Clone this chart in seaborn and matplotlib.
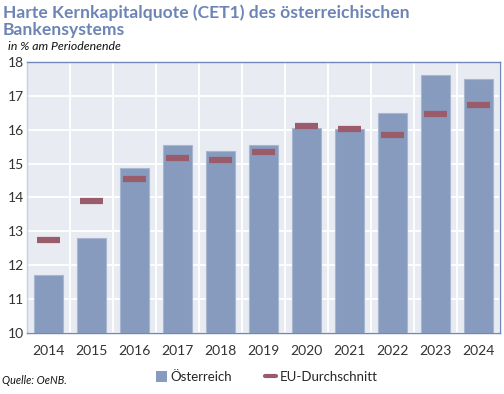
import numpy as np
import pandas as pd
import matplotlib
matplotlib.use('Agg')
import matplotlib.pyplot as plt
import seaborn as sns
from matplotlib.patches import Patch
from matplotlib.lines import Line2D

# data
years = ['2014', '2015', '2016', '2017', '2018', '2019', '2020', '2021', '2022', '2023', '2024']
oesterreich = [11.7, 12.8, 14.86, 15.55, 15.38, 15.55, 16.05, 16.02, 16.48, 17.61, 17.49]
eu_schnitt = [12.74, 13.9, 14.53, 15.16, 15.09, 15.33, 16.12, 16.03, 15.85, 16.47, 16.73]
y_ticks = [10, 11, 12, 13, 14, 15, 16, 17, 18]

BAR_COLOR = '#879bbe'
EU_COLOR = '#9a5b6a'
BG_COLOR = '#e8ebf2'
TITLE_COLOR = '#6d85b6'
SPINE_COLOR = '#7089b8'

df = pd.DataFrame({'Jahr': years, 'Österreich': oesterreich, 'EU': eu_schnitt})

sns.set_style('white')
plt.rcParams['font.family'] = ['Lato', 'DejaVu Sans']

fig = plt.figure(figsize=(5.04, 3.94), dpi=100)
ax = fig.add_axes([0.054, 0.155, 0.938, 0.688])
ax.set_facecolor(BG_COLOR)

sns.barplot(data=df, x='Jahr', y='Österreich', color=BAR_COLOR, width=0.68,
            edgecolor='#a8b6d0', linewidth=0.8, saturation=1, ax=ax, zorder=3)
xpos = np.arange(len(years))
ax.hlines(df['EU'], xpos - 0.27, xpos + 0.27, color=EU_COLOR, linewidth=4.5, zorder=4)

ax.set_ylim(10, 18)
ax.set_xlim(-0.5, len(years) - 0.5)
ax.set_yticks(y_ticks)
ax.set_xticks(xpos + 0.5, minor=True)
ax.grid(axis='y', which='major', color='white', linewidth=1.3, zorder=0)
ax.grid(axis='x', which='minor', color='white', linewidth=1.3, zorder=0)
ax.tick_params(axis='both', which='both', length=0, labelsize=10, colors='#333333')
ax.tick_params(axis='x', pad=9)
ax.tick_params(axis='y', pad=2)
ax.set_xlabel('')
ax.set_ylabel('')
for s in ax.spines.values():
    s.set_color(SPINE_COLOR)
    s.set_linewidth(1.0)
ax.spines['left'].set_color('#c8d0e0')

fig.text(0.006, 0.99, 'Harte Kernkapitalquote (CET1) des österreichischen\nBankensystems',
         ha='left', va='top', fontsize=12.6, fontweight='bold', color=TITLE_COLOR,
         linespacing=1.1)
fig.text(0.016, 0.883, 'in % am Periodenende', ha='left', va='center', fontsize=8.8,
         style='italic', color='#111111')
fig.text(0.004, 0.033, 'Quelle: OeNB.', ha='left', va='center', fontsize=7.8,
         style='italic', color='#111111')

handles = [Patch(facecolor=BAR_COLOR, edgecolor='none'),
           Line2D([0], [0], color=EU_COLOR, linewidth=3)]
fig.legend(handles, ['Österreich', 'EU-Durchschnitt'], loc='center',
           bbox_to_anchor=(0.53, 0.043), ncol=2, frameon=False, fontsize=9.5,
           handlelength=0.8, handleheight=0.8, handletextpad=0.3, columnspacing=2.5)

plt.savefig('out.png', dpi=100)
plt.close()
